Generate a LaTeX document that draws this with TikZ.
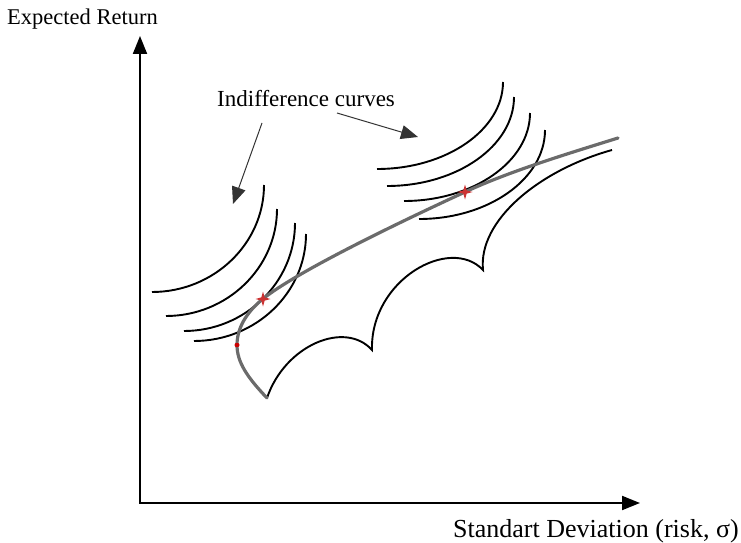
\documentclass[tikz,border=0pt]{standalone}
\usepackage{fontspec}
\setmainfont{Liberation Serif}
\usetikzlibrary{arrows.meta,shapes.geometric}
\tikzset{
  axis/.style={line width=2pt, black, -{Triangle[length=18pt,width=14pt]}},
  pointer/.style={line width=1pt, black!80, -{Triangle[length=17pt,width=14pt]}},
  icurve/.style={line width=1.9pt, black},
  boundary/.style={line width=1.9pt, black, line join=miter},
  frontier/.style={line width=3.2pt, black!58, line cap=round},
  optstar/.style={star, star points=4, star point ratio=3.2, minimum size=15pt, inner sep=0pt, fill=red!75!black!80, draw=none},
  mvdot/.style={ellipse, minimum width=5pt, minimum height=4.5pt, inner sep=0pt, fill=red!80!black, draw=none},
  lbl/.style={inner sep=0pt, anchor=base west}
}
\newcommand{\icurveq}[4]{%
  \draw[icurve] (#1,#2) .. controls (#1,{#2+0.55*(#4-#2)}) and ({#3+0.55*(#1-#3)},#4) .. (#3,#4);}
\begin{document}
\begin{tikzpicture}[x=1pt,y=-1pt]
\useasboundingbox (0,0) rectangle (741,543);
% axes
\coordinate (O) at (140,503);
\coordinate (ytop) at (140,36);
\coordinate (xend) at (640,503);
\draw[axis] (O) -- (ytop);
\draw[axis] ([xshift=-1pt]O) -- (xend);
% labels
\node[lbl, font=\fontsize{22.5}{26}\selectfont] (ylab) at (7,25) {Expected Return};
\node[lbl, font=\fontsize{26}{30}\selectfont] (xlab) at (453,537) {Standart Deviation (risk, σ)};
\node[lbl, font=\fontsize{23}{27}\selectfont] (ic) at (217,106) {Indifference curves};
% pointers
\coordinate (p1s) at (262,123);
\coordinate (p1e) at (233,204);
\coordinate (p2s) at (337,113);
\coordinate (p2e) at (418,137);
\draw[pointer] (p1s) -- (p1e);
\draw[pointer] (p2s) -- (p2e);
% left indifference curves
\icurveq{264}{185}{152}{292}
\icurveq{277}{209}{166}{316}
\icurveq{295}{223}{184}{331}
\icurveq{306}{234}{194}{341}
% right indifference curves
\icurveq{503}{82}{377}{169}
\icurveq{514}{97}{387}{186}
\icurveq{530}{113}{404}{201}
\icurveq{545}{130}{419}{219}
% lower boundary (scallops)
\coordinate (c0) at (267,398);
\coordinate (c1) at (372,350);
\coordinate (c2) at (483,270);
\coordinate (c3) at (612,150);
\draw[boundary] (c0) .. controls (285,345) and (345,320) .. (c1)
  .. controls (370,280) and (450,235) .. (c2)
  .. controls (478,220) and (540,170) .. (c3);
% efficient frontier
\coordinate (mvp) at (237,345);
\coordinate (t1) at (264,298);
\coordinate (t2) at (465,192);
\coordinate (fend) at (618,138);
\draw[frontier] (c0) .. controls (247,377) and (237,362) .. (mvp)
  .. controls (237,325) and (250,309) .. (t1)
  .. controls (300,270) and (400,222) .. (t2)
  .. controls (510,171) and (570,153) .. (fend);
% points
\node[mvdot] (mv) at (mvp) {};
\node[optstar] (s1) at (263,299) {};
\node[optstar] (s2) at (465,192) {};
\end{tikzpicture}
\end{document}
